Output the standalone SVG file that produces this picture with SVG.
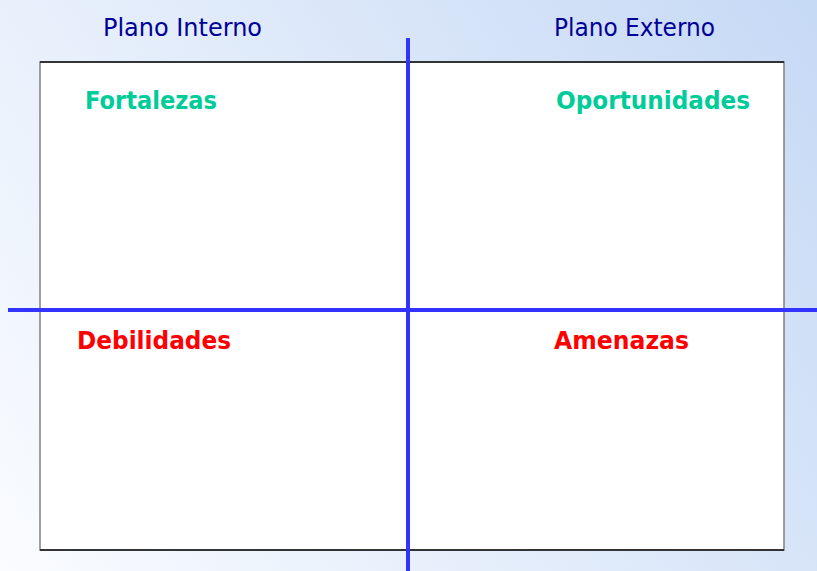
<svg xmlns="http://www.w3.org/2000/svg" width="817" height="571" viewBox="0 0 817 571">
<style>
.head{font-family:"DejaVu Sans","Liberation Sans",sans-serif;font-size:24px;fill:#000099}
.lab{font-family:"DejaVu Sans","Liberation Sans",sans-serif;font-size:24px;font-weight:bold}
.pos{fill:#00cc99}
.neg{fill:#ff0000}
.axis{stroke:#3333ff;stroke-width:4}
</style>
<defs>
<linearGradient id="bg" gradientUnits="userSpaceOnUse" x1="0" y1="571" x2="817" y2="0">
<stop offset="0" stop-color="#fafcff"/>
<stop offset="1" stop-color="#c6d9f5"/>
</linearGradient>
</defs>
<rect x="0" y="0" width="817" height="571" fill="url(#bg)"/>
<g id="frame">
<rect x="40" y="62" width="744" height="488" fill="#ffffff" stroke="#808080" stroke-width="1.5"/>
<line x1="40" y1="62" x2="784" y2="62" stroke="#111111" stroke-width="1.5"/>
<line x1="40" y1="550" x2="784" y2="550" stroke="#111111" stroke-width="1.5"/>
</g>
<g id="plano-interno"><text class="head" x="103" y="36" textLength="159" lengthAdjust="spacingAndGlyphs">Plano Interno</text></g>
<g id="plano-externo"><text class="head" x="554" y="36" textLength="161" lengthAdjust="spacingAndGlyphs">Plano Externo</text></g>
<g id="fortalezas"><text class="lab pos" x="85" y="109" textLength="132" lengthAdjust="spacingAndGlyphs">Fortalezas</text></g>
<g id="oportunidades"><text class="lab pos" x="556" y="109" textLength="194" lengthAdjust="spacingAndGlyphs">Oportunidades</text></g>
<g id="debilidades"><text class="lab neg" x="77" y="349" textLength="154" lengthAdjust="spacingAndGlyphs">Debilidades</text></g>
<g id="amenazas"><text class="lab neg" x="554" y="349" textLength="135" lengthAdjust="spacingAndGlyphs">Amenazas</text></g>
<g id="connectors">
<line class="axis" x1="408" y1="38" x2="408" y2="571"/>
<line class="axis" x1="8" y1="310" x2="817" y2="310"/>
</g>
</svg>
